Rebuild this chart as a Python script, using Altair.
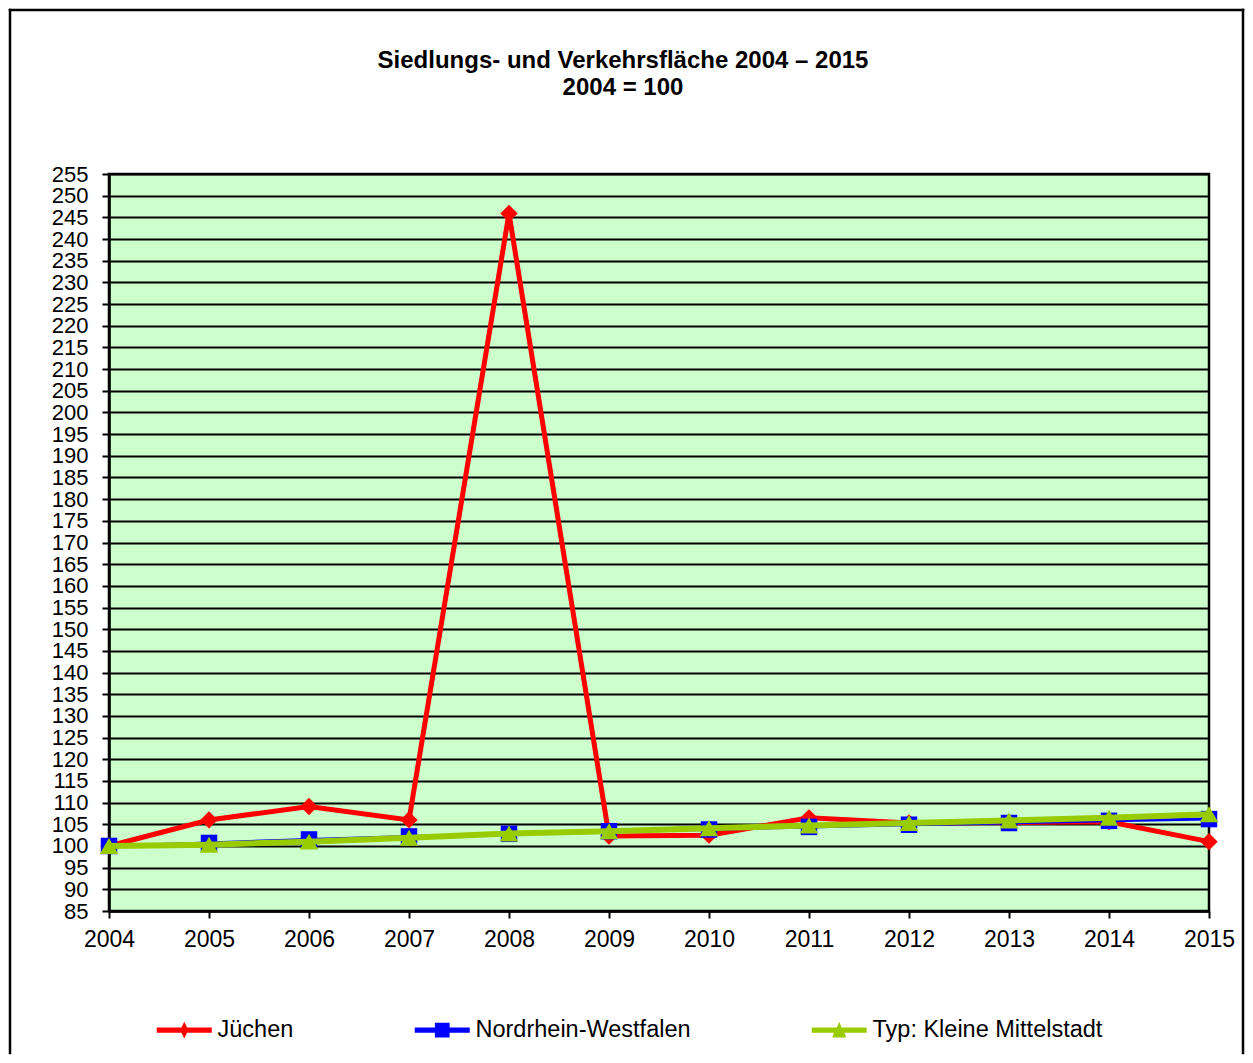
import altair as alt
import pandas as pd

years = [str(y) for y in range(2004, 2016)]
series_names = ["Jüchen", "Nordrhein-Westfalen", "Typ: Kleine Mittelstadt"]
juechen = [100.0, 106.0, 109.1, 106.0, 245.9, 102.3, 102.5, 106.5, 105.3, 105.4, 105.6, 101.0]
nrw = [100.0, 100.7, 101.5, 102.2, 102.8, 103.4, 103.8, 104.4, 104.9, 105.3, 105.8, 106.2]
typ = [100.0, 100.3, 101.0, 101.9, 102.9, 103.4, 104.1, 104.7, 105.3, 105.9, 106.5, 107.3]
y_ticks = list(range(85, 256, 5))
title_lines = ["Siedlungs- und Verkehrsfläche 2004 – 2015", "2004 = 100"]

colors = ["#FF0000", "#0000FF", "#99CC00"]
shapes = ["diamond", "square", "triangle-up"]
line_widths = [5, 3, 6]
marker_sizes = [300, 272, 340]
legend_paths = [
    "M-1,-0.24 L1.24,-0.24 L1.5,-0.76 L1.76,-0.24 L4,-0.24 L4,0.24 L1.76,0.24 L1.5,0.76 L1.24,0.24 L-1,0.24 Z",
    "M-1,-0.24 L0.83,-0.24 L0.83,-0.67 L2.17,-0.67 L2.17,-0.24 L4,-0.24 L4,0.24 L2.17,0.24 L2.17,0.67 L0.83,0.67 L0.83,0.24 L-1,0.24 Z",
    "M-1,-0.24 L1.29,-0.24 L1.5,-0.76 L1.71,-0.24 L4,-0.24 L4,0.24 L1.97,0.24 L2.14,0.67 L0.86,0.67 L1.03,0.24 L-1,0.24 Z",
]

rows = []
for name, vals in zip(series_names, [juechen, nrw, typ]):
    for yr, v in zip(years, vals):
        rows.append({"Jahr": yr, "Wert": v, "Reihe": name})
df = pd.DataFrame(rows)

FONT = "Liberation Sans"
W, H = 1100, 737

x_enc = alt.X(
    "Jahr:O",
    scale=alt.Scale(type="point", padding=0),
    axis=alt.Axis(
        title=None, labelAngle=0, labelFontSize=23, labelFont=FONT, labelColor="black",
        domainColor="black", domainWidth=2.5, tickColor="black", tickWidth=2, tickSize=7,
        labelPadding=10, grid=False,
    ),
)
y_enc = alt.Y(
    "Wert:Q",
    scale=alt.Scale(domain=[85, 255], nice=False, zero=False),
    axis=alt.Axis(
        title=None, values=y_ticks, labelFontSize=22, labelFont=FONT, labelColor="black",
        domainColor="black", domainWidth=2.5, tickColor="black", tickWidth=2, tickSize=7,
        labelPadding=14, grid=True, gridColor="black", gridWidth=2, gridOpacity=1,
        labelOverlap=False,
    ),
)

base = alt.Chart(df).encode(x=x_enc, y=y_enc)

layers = []
for name, col, shp, lw, ms in zip(series_names, colors, shapes, line_widths, marker_sizes):
    sub = base.transform_filter(alt.datum.Reihe == name)
    layers.append(sub.mark_line(color=col, strokeWidth=lw))
    layers.append(sub.mark_point(shape=shp, filled=True, size=ms, color=col, opacity=1))

legend_layer = base.transform_filter(alt.datum.Wert < 0).mark_point(
    filled=True, size=484, opacity=1
).encode(
    color=alt.Color(
        "Reihe:N",
        scale=alt.Scale(domain=series_names, range=colors),
        legend=alt.Legend(
            title=None, orient="none", legendX=47, legendY=844, direction="horizontal",
            columns=3, columnPadding=120, labelFontSize=23.5, labelFont=FONT,
            labelColor="black", labelOffset=38, symbolSize=484, padding=0,
            symbolStrokeWidth=0, symbolOpacity=1, labelLimit=400,
        ),
    ),
    shape=alt.Shape("Reihe:N", scale=alt.Scale(domain=series_names, range=legend_paths)),
)

one = pd.DataFrame({"a": [0]})
frame_style = dict(color="black", strokeWidth=2.5, strokeCap="square")
frame_left = alt.Chart(one).mark_rule(**frame_style).encode(
    x=alt.value(-99), y=alt.value(-164), y2=alt.value(879)
)
frame_right = alt.Chart(one).mark_rule(**frame_style).encode(
    x=alt.value(1134), y=alt.value(-164), y2=alt.value(879)
)
frame_top = alt.Chart(one).mark_rule(**frame_style).encode(
    x=alt.value(-99), x2=alt.value(1134), y=alt.value(-164)
)

chart = alt.layer(frame_left, frame_right, frame_top, *layers, legend_layer).properties(
    width=W, height=H,
    padding=0,
    background="white",
    title=alt.TitleParams(
        text=title_lines, fontSize=24, fontWeight="bold", font=FONT, color="black",
        anchor="middle", dx=-36, offset=-92, lineHeight=27,
    ),
).configure_view(
    fill="#CCFFCC", stroke="black", strokeWidth=2.5
)

chart.save("out.html", embed_options={"renderer": "svg", "actions": False})
